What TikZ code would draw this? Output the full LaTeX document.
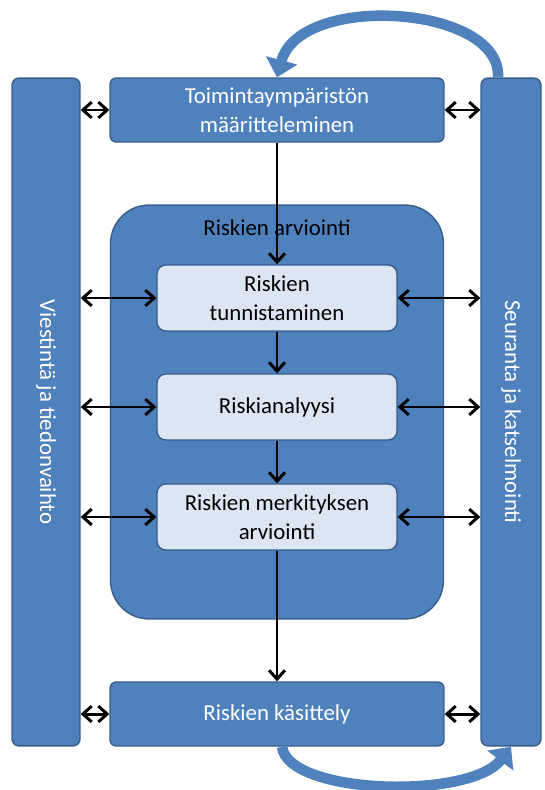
\documentclass[tikz,border=0pt]{standalone}
\usepackage{fontspec}
\setmainfont{Carlito}
\usetikzlibrary{arrows.meta, positioning, calc}
\definecolor{boxblue}{HTML}{4F81BD}
\definecolor{edgeblue}{HTML}{385D8A}
\definecolor{paleblue}{HTML}{DCE6F2}

\begin{document}
\begin{tikzpicture}[
            x=0.02cm, y=-0.02cm,
            font=\fontsize{13}{16.5}\selectfont,
            >={Straight Barb[length=5pt,width=9pt]},
            side/.style  ={draw=edgeblue, fill=boxblue, rounded corners=4pt, text=white,
                    rotate=-90, inner sep=0pt, line width=0.8pt},
            stage/.style ={draw=edgeblue, fill=boxblue, rounded corners=3.5pt, text=white,
                    align=center, minimum width=6.68cm, minimum height=1.28cm, line width=0.8pt},
            sub/.style   ={draw=edgeblue, fill=paleblue, rounded corners=5pt, align=center,
                    minimum width=4.8cm, minimum height=1.32cm, line width=0.8pt},
            area/.style  ={draw=edgeblue, fill=boxblue, rounded corners=22pt,
                    minimum width=6.66cm, minimum height=8.28cm, line width=0.8pt},
            flow/.style  ={->, line width=1.7pt},
            both/.style  ={<->, line width=1.7pt},
            turn/.style  ={draw=boxblue, line width=6pt, -{Triangle[length=10pt,width=18pt]}}
        ]
        \useasboundingbox (0,0) rectangle (544,790);

        %% --- side bars ---
        \node[side, minimum width=13.36cm, minimum height=1.36cm] (viest) at (46,412)
              {Viestintä ja tiedonvaihto};
        \node[side, minimum width=13.36cm, minimum height=1.2cm] (seur) at (511,412)
              {Seuranta ja katselmointi};

        %% --- main column ---
        \node[stage] (toim) at (277,110) {Toimintaympäristön\\määritteleminen};
        \node[area]  (arv)  at (277,412) {};
        \node (arvlbl) at (277,228) {Riskien arviointi};
        \node[sub]   (tun)  at (277,298) {Riskien\\tunnistaminen};
        \node[sub]   (ana)  at (277,407) {Riskianalyysi};
        \node[sub]   (mer)  at (277,517) {Riskien merkityksen\\arviointi};
        \node[stage] (kas)  at (277,714) {Riskien käsittely};

        %% --- flow down the column ---
        \draw[flow] (toim.south) -- (tun.north);
        \draw[flow] (tun.south)  -- (ana.north);
        \draw[flow] (ana.south)  -- (mer.north);
        \draw[flow] (mer.south)  -- (kas.north);

        %% --- links to the side bars (north/south are the bar edges, rotated) ---
        \foreach \n in {toim, tun, ana, mer, kas} {
            \draw[both] (viest.north |- \n.west) -- (\n.west);
            \draw[both] (\n.east) -- (seur.south |- \n.east);
        }

        %% --- feedback loops ---
        \draw[turn] ($(seur.west)+(-13,0)$) .. controls (502,5) and (300,-8) .. (toim.north);
        \draw[turn] ($(kas.south)+(5,0)$) .. controls (288,795) and (470,800) .. (seur.east);

\end{tikzpicture}
\end{document}
